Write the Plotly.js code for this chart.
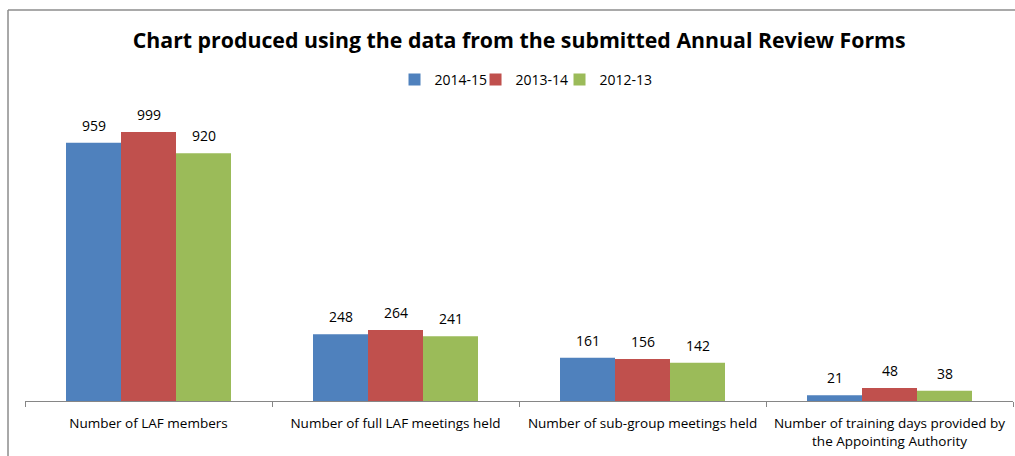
<!DOCTYPE html>
<html>
<head>
<meta charset="utf-8">
<script src="https://cdn.plot.ly/plotly-3.0.1.min.js"></script>
<style>
  html, body { margin: 0; padding: 0; background: #fff; }
  #chart { width: 1015px; height: 456px; }
</style>
</head>
<body>
<div id="chart"></div>
<script>
// categories and values
const categories = [
    'Number of LAF members',
    'Number of full LAF meetings held',
    'Number of sub-group meetings held',
    'Number of training days provided by<br>the Appointing Authority'
];
const seriesNames = ['2014-15', '2013-14', '2012-13'];
const values2014 = [959, 248, 161, 21];
const values2013 = [999, 264, 156, 48];
const values2012 = [920, 241, 142, 38];
const colours = ['#4F81BD', '#C0504D', '#9BBB59'];

const font = "'Open Sans', Lato, sans-serif";
const series = [values2014, values2013, values2012];
const barPx = 55; // width of one bar on screen, used to sit labels over their bar
const legendIds = ['legend', 'legend2', 'legend3'];
const legendX = [0.374, 0.456, 0.541]; // left edges of the three legend entries

const data = series.map((vals, i) => ({
    type: 'bar',
    x: categories,
    y: vals,
    name: seriesNames[i],
    legend: legendIds[i],
    marker: { color: colours[i] }
}));

// value labels over each bar
const annotations = [];
series.forEach((vals, i) => {
    vals.forEach((v, j) => {
        annotations.push({
            x: categories[j], y: v,
            xref: 'x', yref: 'y',
            text: String(v),
            showarrow: false,
            xanchor: 'center', yanchor: 'bottom',
            xshift: (i - 1) * barPx,
            yshift: 6,
            font: { family: font, size: 14, color: '#000' }
        });
    });
});

// chart frame, like the outer border of the original
const frameColour = '#8c8c8c';
const shapes = [
    { type: 'line', xref: 'paper', yref: 'paper', x0: -0.0172, x1: -0.0172, y0: 1.2105, y1: -0.3, line: { color: frameColour, width: 1.5 } },
    { type: 'line', xref: 'paper', yref: 'paper', x0: -0.0172, x1: 1.01, y0: 1.2105, y1: 1.2105, line: { color: frameColour, width: 1.5 } }
];

const layout = {
    width: 1015,
    height: 456,
    margin: { l: 25, r: 2, t: 78, b: 55 },
    paper_bgcolor: '#fff',
    plot_bgcolor: '#fff',
    title: {
        text: '<b>Chart produced using the data from the submitted Annual Review Forms</b>',
        font: { family: font, size: 21.3, color: '#000' },
        x: 0.5115, xanchor: 'center',
        y: 0.912, yanchor: 'middle'
    },
    showlegend: true,
    barmode: 'group',
    bargap: 0.332,
    bargroupgap: 0,
    xaxis: {
        type: 'category',
        showline: true,
        linecolor: '#868686',
        linewidth: 1,
        ticks: 'outside',
        tickson: 'boundaries',
        ticklen: 5,
        tickcolor: '#868686',
        tickangle: 0,
        ticklabelstandoff: 10,
        showgrid: false,
        tickfont: { family: font, size: 13.5, color: '#000' }
    },
    yaxis: {
        range: [0, 1200],
        visible: false,
        showgrid: false,
        zeroline: false
    },
    annotations: annotations,
    shapes: shapes
};

legendIds.forEach((id, i) => {
    layout[id] = {
        orientation: 'h',
        x: legendX[i], xanchor: 'left',
        y: 0.994, yanchor: 'middle',
        font: { family: font, size: 14, color: '#000' },
        itemwidth: 30,
        bgcolor: 'rgba(0,0,0,0)'
    };
});

Plotly.newPlot('chart', data, layout, { displayModeBar: false, staticPlot: true });
</script>
</body>
</html>
